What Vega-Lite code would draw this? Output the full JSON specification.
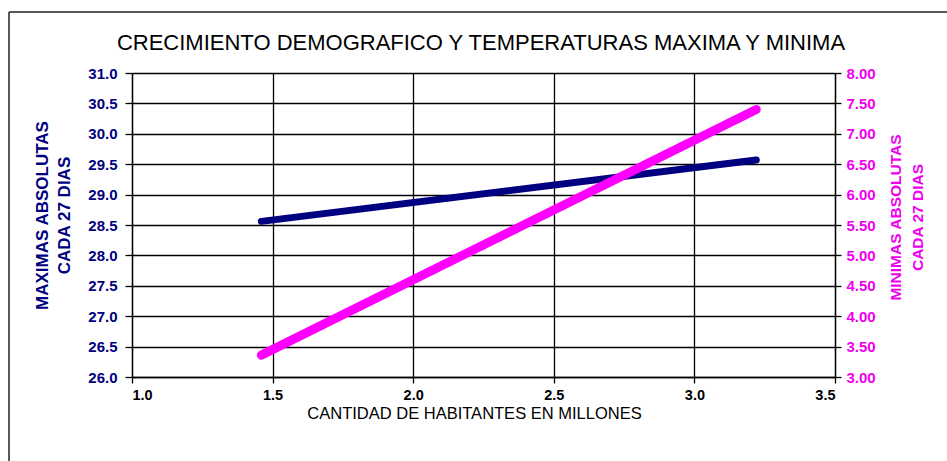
{
  "$schema": "https://vega.github.io/schema/vega-lite/v6.json",
  "width": 938,
  "height": 449,
  "autosize": {"type": "none"},
  "padding": {"left": 9, "top": 12, "right": 0, "bottom": 0},
  "background": "white",
  "config": {
    "view": {"stroke": "#222222", "strokeWidth": 1.5, "strokeDash": [938, 1387, 449, 0]},
    "font": "Liberation Sans"
  },
  "title": {
    "text": "CRECIMIENTO DEMOGRAFICO Y TEMPERATURAS MAXIMA Y MINIMA",
    "font": "Liberation Sans",
    "fontSize": 22,
    "fontWeight": "normal",
    "color": "#000000",
    "anchor": "middle",
    "frame": "group",
    "offset": 0,
    "baseline": "alphabetic",
    "dy": 60,
    "dx": 3
  },
  "data": {
    "values": [
      {"habitantes": 1.46, "maxima": 28.56, "minima": 3.36},
      {"habitantes": 3.22, "maxima": 29.57, "minima": 7.40}
    ]
  },
  "layer": [
    {
      "mark": {"type": "line", "color": "#000080", "strokeWidth": 7, "strokeCap": "round"},
      "encoding": {
        "x": {
          "field": "habitantes",
          "type": "quantitative",
          "scale": {"domain": [1, 3.5], "range": [123, 826], "nice": false, "zero": false},
          "axis": {
            "orient": "top",
            "grid": true,
            "gridColor": "#000000",
            "gridWidth": 1.3,
            "gridOpacity": 1,
            "values": [1, 1.5, 2, 2.5, 3, 3.5],
            "domain": false,
            "ticks": false,
            "labels": false,
            "title": null
          }
        },
        "y": {
          "field": "maxima",
          "type": "quantitative",
          "scale": {"domain": [26, 31], "range": [365, 61], "nice": false, "zero": false},
          "axis": {
            "orient": "left",
            "offset": -123,
            "grid": true,
            "gridColor": "#000000",
            "gridWidth": 1.3,
            "gridOpacity": 1,
            "values": [26, 26.5, 27, 27.5, 28, 28.5, 29, 29.5, 30, 30.5, 31],
            "format": ".1f",
            "domainColor": "#000000",
            "domainWidth": 1.3,
            "tickColor": "#000000",
            "tickSize": 7,
            "tickWidth": 1.3,
            "labelPadding": 8,
            "labelColor": "#000080",
            "labelFont": "Liberation Sans",
            "labelFontSize": 15,
            "labelFontWeight": "bold",
            "title": ["MAXIMAS ABSOLUTAS", "CADA 27 DIAS"],
            "titleColor": "#000080",
            "titleFont": "Liberation Sans",
            "titleFontSize": 17,
            "titleFontWeight": "bold",
            "titleLineHeight": 22,
            "titleAngle": -90,
            "titleAlign": "center",
            "titleBaseline": "middle",
            "titleX": -90,
            "titleY": 203
          }
        }
      }
    },
    {
      "mark": {"type": "line", "color": "#FF00FF", "strokeWidth": 9, "strokeCap": "round"},
      "encoding": {
        "x": {
          "field": "habitantes",
          "type": "quantitative",
          "scale": {"domain": [1, 3.5], "range": [123, 826], "nice": false, "zero": false},
          "axis": {
            "orient": "bottom",
            "offset": -84,
            "grid": false,
            "values": [1, 1.5, 2, 2.5, 3, 3.5],
            "format": ".1f",
            "domainColor": "#000000",
            "domainWidth": 1.3,
            "tickColor": "#000000",
            "tickSize": 6,
            "tickWidth": 1.3,
            "labelPadding": 5,
            "labelColor": "#000000",
            "labelFont": "Liberation Sans",
            "labelFontSize": 14.5,
            "labelFontWeight": "bold",
            "title": "CANTIDAD DE HABITANTES EN MILLONES",
            "titleColor": "#000000",
            "titleFont": "Liberation Sans",
            "titleFontSize": 16.5,
            "titleFontWeight": "normal",
            "titleAlign": "center",
            "titleBaseline": "alphabetic",
            "titleX": 465,
            "titleY": 41
          }
        },
        "y": {
          "field": "minima",
          "type": "quantitative",
          "scale": {"domain": [3, 8], "range": [365, 61], "nice": false, "zero": false},
          "axis": {
            "orient": "right",
            "offset": -112,
            "grid": false,
            "values": [3, 3.5, 4, 4.5, 5, 5.5, 6, 6.5, 7, 7.5, 8],
            "format": ".2f",
            "domainColor": "#000000",
            "domainWidth": 1.3,
            "tickColor": "#000000",
            "tickSize": 6,
            "tickWidth": 1.3,
            "labelPadding": 5,
            "labelColor": "#EE00EE",
            "labelFont": "Liberation Sans",
            "labelFontSize": 15,
            "labelFontWeight": "bold",
            "title": ["MINIMAS ABSOLUTAS", "CADA 27 DIAS"],
            "titleColor": "#EE00EE",
            "titleFont": "Liberation Sans",
            "titleFontSize": 15.5,
            "titleFontWeight": "bold",
            "titleLineHeight": 22,
            "titleAngle": -90,
            "titleAlign": "center",
            "titleBaseline": "middle",
            "titleX": 60,
            "titleY": 205
          }
        }
      }
    }
  ],
  "resolve": {"scale": {"y": "independent"}, "axis": {"x": "independent", "y": "independent"}}
}
